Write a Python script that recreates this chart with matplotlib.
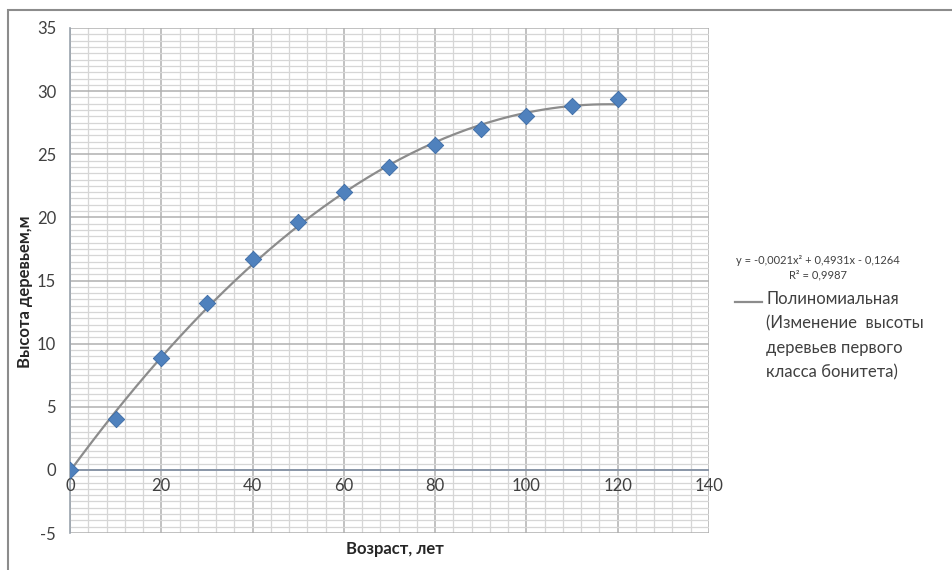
import numpy as np
import matplotlib
matplotlib.use("Agg")
import matplotlib.pyplot as plt
from matplotlib.patches import Rectangle
from matplotlib.ticker import MultipleLocator

plt.rcParams['font.family'] = ['Lato', 'DejaVu Sans']
plt.rcParams['axes.unicode_minus'] = False

age = [0, 10, 20, 30, 40, 50, 60, 70, 80, 90, 100, 110, 120]
height = [0.0, 4.0, 8.9, 13.2, 16.7, 19.6, 22.0, 24.0, 25.7, 27.0, 28.0, 28.8, 29.4]
x_ticks = [0, 20, 40, 60, 80, 100, 120, 140]
y_ticks = [-5, 0, 5, 10, 15, 20, 25, 30, 35]
equation = "y = -0,0021x² + 0,4931x - 0,1264"
r2_text = "R² = 0,9987"
legend_text = "Полиномиальная\n(Изменение  высоты\nдеревьев первого\nкласса бонитета)"
xlabel = "Возраст, лет"
ylabel = "Высота деревьем,м"

W, H = 952, 570
fig = plt.figure(figsize=(W / 100, H / 100), dpi=100)
fig.patch.set_facecolor('white')

# outer chart border (top and left visible)
fig.add_artist(Rectangle((8 / W, -0.1), 1.2, (H - 10) / H + 0.1, transform=fig.transFigure,
                         fill=False, edgecolor='#8c8c8c', linewidth=1.5))

left, right, top, bottom = 70, 709, 28, 533
ax = fig.add_axes([left / W, (H - bottom) / H, (right - left) / W, (bottom - top) / H])
ax.set_xlim(0, 140)
ax.set_ylim(-5, 35)

ax.xaxis.set_minor_locator(MultipleLocator(4))
ax.yaxis.set_minor_locator(MultipleLocator(0.5))
ax.set_xticks(x_ticks)
ax.set_yticks(y_ticks)

ax.grid(which='minor', color='#d6d6d6', linewidth=0.9)
ax.grid(which='major', color='#b0b0b0', linewidth=1.1)
ax.set_axisbelow(True)

for s in ['top', 'right', 'bottom']:
    ax.spines[s].set_visible(False)
ax.spines['left'].set_position(('data', 0))
ax.spines['left'].set_color('#9aa3ad')
ax.spines['left'].set_linewidth(1.2)
ax.axhline(0, color='#8a96a8', linewidth=1.4, zorder=2)

ax.tick_params(axis='both', which='both', length=0)
ax.tick_params(axis='y', labelsize=12, labelcolor='#404040', pad=10)
ax.set_xticklabels([])
for xv in x_ticks:
    ax.text(xv, -1.3, str(xv), ha='center', va='center', fontsize=12, color='#404040')

# trendline: quadratic fit of the data
coef = np.polyfit(age, height, 2)
xs = np.linspace(min(age), max(age), 200)
ax.plot(xs, np.polyval(coef, xs), color='#8c8c8c', linewidth=1.6, zorder=3)

ax.scatter(age, height, marker='D', s=70, color='#4f81bd', edgecolor='#3a6aa5',
           linewidth=0.6, zorder=4)

fig.text(395 / W, 1 - 549 / H, xlabel, ha='center', va='center', fontsize=12,
         fontweight='bold', color='#262626')
fig.text(25 / W, 1 - 292 / H, ylabel, ha='center', va='center', fontsize=12,
         fontweight='bold', color='#262626', rotation=90)

fig.text(818 / W, 1 - 261 / H, equation, ha='center', va='center', fontsize=8, color='#404040')
fig.text(818 / W, 1 - 275 / H, r2_text, ha='center', va='center', fontsize=8, color='#404040')

fig.add_artist(plt.Line2D([735 / W, 762 / W], [1 - 302 / H, 1 - 302 / H],
                          transform=fig.transFigure, color='#8c8c8c', linewidth=1.6))
fig.text(766 / W, 1 - 291 / H, legend_text, ha='left', va='top', fontsize=12,
         color='#404040', linespacing=1.65)

fig.savefig('out.png', dpi=100)
